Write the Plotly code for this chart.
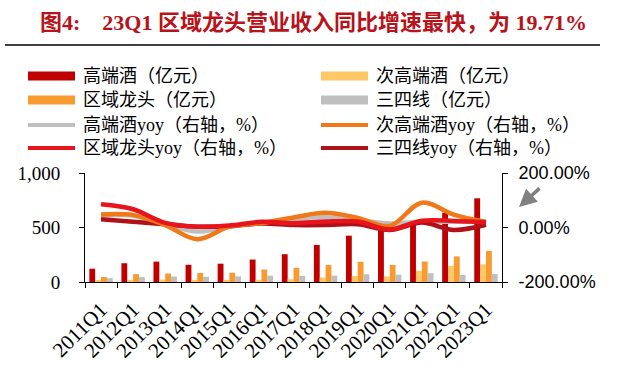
import plotly.graph_objects as go

categories = ["2011Q1", "2012Q1", "2013Q1", "2014Q1", "2015Q1", "2016Q1", "2017Q1",
              "2018Q1", "2019Q1", "2020Q1", "2021Q1", "2022Q1", "2023Q1"]
high_end = [122, 172, 187, 158, 168, 206, 255, 340, 425, 470, 563, 636, 768]
sub_high_end = [15, 20, 22, 15, 15, 20, 25, 42, 55, 50, 102, 148, 162]
regional = [46, 72, 78, 83, 85, 115, 130, 157, 186, 156, 188, 235, 286]
lower_tier = [35, 45, 50, 48, 52, 58, 56, 58, 71, 67, 81, 65, 73]

high_end_yoy = [45, 44, 12, -15, 3, 18, 32, 38, 27, 15, 21, 21, 21]
sub_high_end_yoy = [48, 46, 9, -43, 3, 16, 37, 54, 35, 6, 91, 47, 20]
regional_yoy = [85, 67, 17, 3, 7, 21, 16, 22, 22, -7, 25, 24, 19.71]
lower_tier_yoy = [30, 21, 12, 3, 5, 15, 9, 9, 12, -9, 18, -9, 10]

left_ticks = [0, 500, 1000]
left_ticktext = ["0", "500", "1,000"]
right_ticks = [-200, 0, 200]
right_ticktext = ["-200.00%", "0.00%", "200.00%"]

C_HIGH = "#C00000"
C_SUB = "#FFC766"
C_REG = "#F79A30"
C_LOW = "#BFBFBF"
L_HIGH = "#BFBFBF"
L_SUB = "#F07818"
L_REG = "#E8141C"
L_LOW = "#B01018"

W, H = 640, 386
PL, PR, PT, PB = 85, 502, 173, 282


def px(x):
    return (x - PL) / (PR - PL)


def py(y):
    return (PB - y) / (PB - PT)


fig = go.Figure()
for name, vals, col in [("高端酒（亿元）", high_end, C_HIGH),
                        ("次高端酒（亿元）", sub_high_end, C_SUB),
                        ("区域龙头（亿元）", regional, C_REG),
                        ("三四线（亿元）", lower_tier, C_LOW)]:
    fig.add_trace(go.Bar(x=categories, y=vals, name=name, marker_color=col,
                         marker_line_width=0, yaxis="y"))

for name, vals, col in [("高端酒yoy（右轴，%）", high_end_yoy, L_HIGH),
                        ("三四线yoy（右轴，%）", lower_tier_yoy, L_LOW),
                        ("次高端酒yoy（右轴，%）", sub_high_end_yoy, L_SUB),
                        ("区域龙头yoy（右轴，%）", regional_yoy, L_REG)]:
    fig.add_trace(go.Scatter(x=categories, y=vals, name=name, mode="lines",
                             line=dict(color=col, width=4.5, shape="spline", smoothing=1.0),
                             yaxis="y2"))

serif = "Liberation Serif, Noto Sans CJK SC"
sans = "Liberation Sans, Arial"

shapes = []
annotations = []

# custom legend
legend_items = [
    ("bar", C_HIGH, "高端酒（亿元）", 28, 76),
    ("bar", C_SUB, "次高端酒（亿元）", 321, 76),
    ("bar", C_REG, "区域龙头（亿元）", 28, 100),
    ("bar", C_LOW, "三四线（亿元）", 321, 100),
    ("line", L_HIGH, "高端酒yoy（右轴，%）", 28, 125),
    ("line", L_SUB, "次高端酒yoy（右轴，%）", 321, 125),
    ("line", L_REG, "区域龙头yoy（右轴，%）", 28, 148),
    ("line", L_LOW, "三四线yoy（右轴，%）", 321, 148),
]
for kind, col, label, x0, yc in legend_items:
    if kind == "bar":
        shapes.append(dict(type="rect", xref="paper", yref="paper",
                           x0=px(x0), x1=px(x0 + 47), y0=py(yc - 4.5), y1=py(yc + 4.5),
                           fillcolor=col, line_width=0))
    else:
        shapes.append(dict(type="line", xref="paper", yref="paper",
                           x0=px(x0), x1=px(x0 + 47), y0=py(yc), y1=py(yc),
                           line=dict(color=col, width=4)))
    annotations.append(dict(xref="paper", yref="paper", x=px(x0 + 53), y=py(yc),
                            xanchor="left", yanchor="middle", showarrow=False,
                            text=label, font=dict(family=serif, size=18, color="#000000")))

# title
annotations.append(dict(xref="paper", yref="paper", x=px(38), y=py(22),
                        xanchor="left", yanchor="middle", showarrow=False,
                        text="<b>图4:    23Q1 区域龙头营业收入同比增速最快，为 19.71%</b>",
                        font=dict(family=serif, size=22, color="#B8121A")))
shapes.append(dict(type="line", xref="paper", yref="paper",
                   x0=px(5), x1=px(600), y0=py(45), y1=py(45),
                   line=dict(color="#000000", width=1.5)))

# arrow
annotations.append(dict(xref="paper", yref="paper", x=px(519), y=py(207),
                        ax=22, ay=-20, showarrow=True, arrowhead=2, arrowsize=1,
                        arrowwidth=3.5, arrowcolor="#808080", text=""))

fig.update_layout(
    width=W, height=H,
    margin=dict(l=PL, r=W - PR, t=PT, b=H - PB, autoexpand=False),
    paper_bgcolor="white", plot_bgcolor="white",
    barmode="group", bargap=0.27, bargroupgap=0,
    showlegend=False,
    shapes=shapes, annotations=annotations,
    xaxis=dict(type="category", showline=True, linecolor="#000000", linewidth=1,
               ticks="outside", ticklen=5, tickcolor="#000000", tickson="boundaries",
               tickangle=-45, tickfont=dict(family=serif, size=21, color="#000000"),
               ticklabelstandoff=6,
               showgrid=False, zeroline=False, automargin=False),
    yaxis=dict(range=[0, 1000], tickvals=left_ticks, ticktext=left_ticktext,
               showline=True, linecolor="#000000", linewidth=1, ticks="outside",
               ticklen=5, tickcolor="#000000", showgrid=False, zeroline=False,
               ticklabelstandoff=15, automargin=False,
               tickfont=dict(family=serif, size=19, color="#000000")),
    yaxis2=dict(range=[-200, 200], tickvals=right_ticks, ticktext=right_ticktext,
                overlaying="y", side="right", showline=True, linecolor="#000000",
                linewidth=1, ticks="outside", ticklen=5, tickcolor="#000000",
                showgrid=False, zeroline=False, ticklabelstandoff=7, automargin=False,
                tickfont=dict(family=sans, size=18, color="#000000")),
)

fig.write_html("out.html", config={"displayModeBar": False},
               post_script="document.body.style.margin='0';document.body.style.padding='0';")
